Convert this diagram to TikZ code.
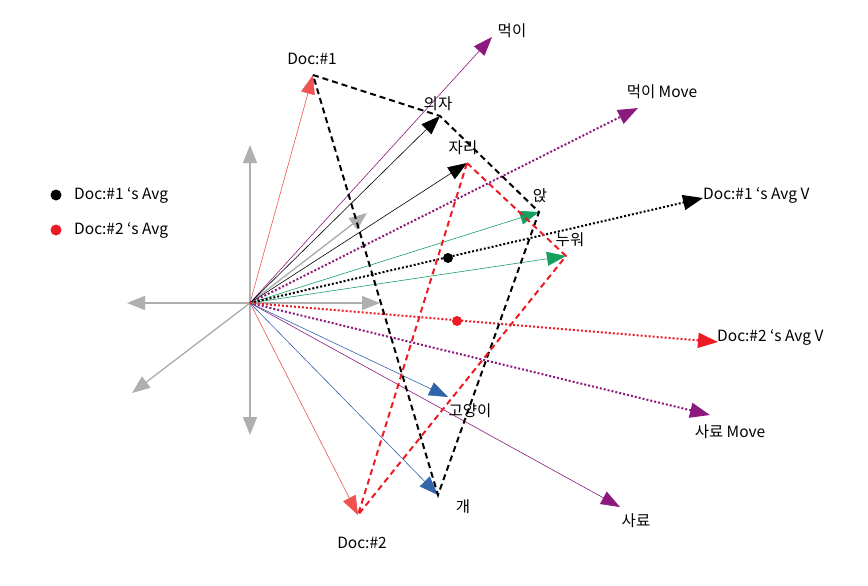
\documentclass[tikz,border=0pt]{standalone}
\usepackage{fontspec}
\setmainfont{Noto Sans CJK KR}
\usetikzlibrary{arrows.meta}
\definecolor{axisgray}{RGB}{175,175,175}
\definecolor{docred}{RGB}{240,82,82}
\definecolor{avgred}{RGB}{237,28,36}
\definecolor{wordpurple}{RGB}{140,25,125}
\definecolor{wordgreen}{RGB}{20,160,95}
\definecolor{wordblue}{RGB}{50,100,170}
\begin{document}
\begin{tikzpicture}[x=1pt,y=-1pt,
    vec/.style={line width=0.6pt,-{Triangle[length=19pt,width=14pt]}},
    axis/.style={axisgray,line width=1.4pt,-{Triangle[length=18pt,width=14pt]}},
    avgvec/.style={line width=2pt,dotted,-{Triangle[length=20pt,width=15pt]}},
    poly/.style={line width=2pt,dash pattern=on 6pt off 4pt},
    lbl/.style={font=\fontsize{15.5}{18}\selectfont,inner sep=1pt}]

    \useasboundingbox (0,0) rectangle (868,586);

    % Origin and tips
    \coordinate (O) at (250,303);
    \coordinate (doc1) at (313,75);
    \coordinate (doc2) at (358,515);
    \coordinate (meok) at (492,37);
    \coordinate (uija) at (440,116);
    \coordinate (jari) at (467,163);
    \coordinate (anj) at (539,212);
    \coordinate (nuwo) at (566,256);
    \coordinate (goyang) at (448,397);
    \coordinate (gae) at (438,495);
    \coordinate (saryo) at (620,507);
    \coordinate (meokmove) at (638,108);
    \coordinate (saryomove) at (710,415);
    \coordinate (avg1v) at (703,198);
    \coordinate (avg2v) at (718,342);

    % Axes
    \draw[axis] (O) -- (250,145);
    \draw[axis] (O) -- (250,435);
    \draw[axis] (O) -- (127,303);
    \draw[axis] (O) -- (380,303);
    \draw[axis] (O) -- (132,393);
    \draw[axis] (O) -- (367,213);

    % Word vectors
    \draw[vec, docred] (O) -- (doc1);
    \draw[vec, docred] (O) -- (doc2);
    \draw[vec, wordpurple] (O) -- (meok);
    \draw[vec, wordpurple] (O) -- (saryo);
    \draw[vec, black] (O) -- (uija);
    \draw[vec, black] (O) -- (jari);
    \draw[vec, wordgreen] (O) -- (anj);
    \draw[vec, wordgreen] (O) -- (nuwo);
    \draw[vec, wordblue] (O) -- (goyang);
    \draw[vec, wordblue] (O) -- (gae);

    % Moves and averages
    \draw[avgvec, wordpurple] (O) -- (meokmove);
    \draw[avgvec, wordpurple] (O) -- (saryomove);
    \draw[avgvec, black] (O) -- (avg1v);
    \draw[avgvec, avgred] (O) -- (avg2v);

    % Document polygons
    \draw[poly, black] (doc1) -- (uija) -- (anj) -- (gae) -- cycle;
    \draw[poly, avgred] (jari) -- (nuwo) -- (doc2) -- cycle;

    % Average points
    \fill[black] (448,258) circle (5pt);
    \fill[avgred] (457,321) circle (5pt);

    % Labels
    \node[lbl] (ldoc1) at (312,59) {Doc:\#1};
    \node[lbl] (ldoc2) at (362,543) {Doc:\#2};
    \node[lbl] (lmeok) at (512,31) {먹이};
    \node[lbl] (luija) at (438,104) {의자};
    \node[lbl] (ljari) at (463,148) {자리};
    \node[lbl] (lanj) at (540,196) {앉};
    \node[lbl] (lnuwo) at (570,240) {누워};
    \node[lbl] (lgoyang) at (470,411) {고양이};
    \node[lbl] (lgae) at (463,507) {개};
    \node[lbl] (lsaryo) at (636,521) {사료};
    \node[lbl] (lmeokmove) at (662,92) {먹이 Move};
    \node[lbl] (lsaryomove) at (730,432) {사료 Move};
    \node[lbl, anchor=west] (lavg1v) at (702,195) {Doc:\#1 ‘s Avg V};
    \node[lbl, anchor=west] (lavg2v) at (716,337) {Doc:\#2 ‘s Avg V};

    % Legend
    \fill[black] (56,195) circle (5.5pt);
    \fill[avgred] (56,230) circle (5.5pt);
    \node[lbl, anchor=west] (leg1) at (73,195) {Doc:\#1 ‘s Avg};
    \node[lbl, anchor=west] (leg2) at (73,230) {Doc:\#2 ‘s Avg};

\end{tikzpicture}
\end{document}
